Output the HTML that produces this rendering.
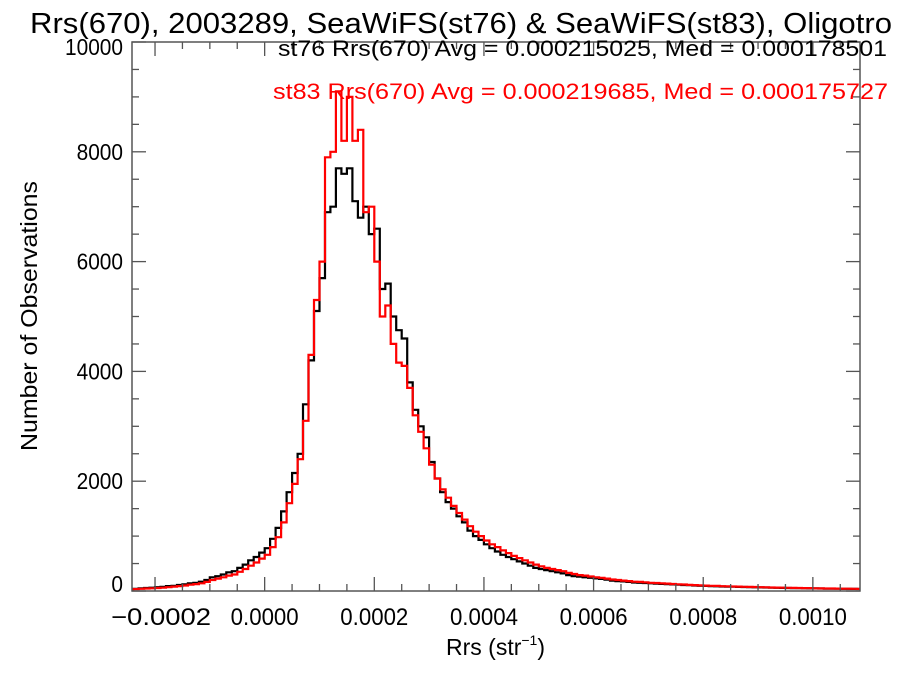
<!DOCTYPE html>
<html><head><meta charset="utf-8"><style>
body{margin:0;background:#fff;}
svg{display:block;font-family:"Liberation Sans",sans-serif;}
</style></head><body>
<svg id="chart" width="900" height="675">
<text x="30" y="33" font-size="29" fill="#000" textLength="862" lengthAdjust="spacingAndGlyphs">Rrs(670), 2003289, SeaWiFS(st76) &amp; SeaWiFS(st83), Oligotro</text>
<g id="plot"></g>
<text x="278" y="56" font-size="22" fill="#000" textLength="609" lengthAdjust="spacingAndGlyphs">st76 Rrs(670) Avg = 0.000215025, Med = 0.000178501</text>
<text x="273" y="99" font-size="22" fill="#ff0000" textLength="615" lengthAdjust="spacingAndGlyphs">st83 Rrs(670) Avg = 0.000219685, Med = 0.000175727</text>
<text x="446" y="655" font-size="23">Rrs (str<tspan font-size="14" dy="-10">−1</tspan><tspan dy="10">)</tspan></text>
<text transform="translate(37,316) rotate(-90)" font-size="23" text-anchor="middle" textLength="270" lengthAdjust="spacingAndGlyphs">Number of Observations</text>
</svg>
<script>
const binStart = -0.00024;
const binWidth = 0.00001;
const st76 = [40,50,55,60,70,75,90,95,110,120,140,150,170,200,250,270,300,340,360,420,480,560,620,700,780,950,1150,1450,1800,2150,2500,3400,4200,5100,5700,6900,7000,7700,7600,7700,7100,6800,7000,6500,6600,5500,5600,5000,4750,4600,3800,3300,3000,2800,2350,2050,1800,1620,1500,1360,1250,1100,1000,930,850,780,720,660,620,580,540,500,460,420,400,380,360,340,320,290,270,260,250,240,230,220,205,190,180,175,165,155,150,145,140,135,130,125,120,115,110,105,100,95,92,90,85,82,80,78,75,72,70,68,65,63,60,58,56,55,53,52,50,48,47,45,44,43,42,40,40,38,37];
const st83 = [35,40,45,50,55,60,70,80,90,100,115,125,140,165,200,225,250,280,300,350,400,460,520,590,660,800,980,1250,1600,1950,2400,3100,4300,5300,6000,7900,8000,9100,8200,9000,8200,8400,6900,7000,6000,5000,5200,4500,4160,4100,3700,3200,2900,2600,2300,2050,1850,1700,1550,1420,1300,1180,1080,1000,920,850,800,740,690,640,600,560,520,480,450,420,400,380,360,330,310,290,280,265,250,240,225,210,200,190,180,170,165,158,150,145,140,135,128,122,118,112,108,102,98,95,92,88,85,82,80,77,74,72,70,67,64,62,60,58,56,54,53,52,50,48,46,45,44,42,42,40,39];
const xTicks = [-0.0002,0,0.0002,0.0004,0.0006,0.0008,0.0010];
const xTickLabels = ["\u22120.0002","0.0000","0.0002","0.0004","0.0006","0.0008","0.0010"];
const yTicks = [0,2000,4000,6000,8000,10000];
const yTickLabels = ["0","2000","4000","6000","8000","10000"];

const L=132,R=860,T=42,B=591;
const xMin=-0.000242,xMax=0.001086,yMin=0,yMax=10000;
const xs=v=>L+(v-xMin)/(xMax-xMin)*(R-L);
const ys=v=>B-(v-yMin)/(yMax-yMin)*(B-T);
const NS="http://www.w3.org/2000/svg";
const plot=document.getElementById('plot');
function mk(tag,attrs){const e=document.createElementNS(NS,tag);for(const k in attrs)e.setAttribute(k,attrs[k]);plot.appendChild(e);return e;}

function stepPath(vals){
  let d='M'+xs(binStart).toFixed(1)+','+ys(0).toFixed(1);
  vals.forEach((v,i)=>{
    const x0=xs(binStart+i*binWidth),x1=xs(binStart+(i+1)*binWidth);
    d+=' L'+Math.max(L,x0).toFixed(1)+','+ys(v).toFixed(1)+' L'+Math.min(R,x1).toFixed(1)+','+ys(v).toFixed(1);
  });
  return d;
}
const p1=mk('path',{d:stepPath(st76),fill:'none',stroke:'#000','stroke-width':2.2});


const p2=mk('path',{d:stepPath(st83),fill:'none',stroke:'#ff0000','stroke-width':2.2});



const frame=mk('rect',{x:L,y:T,width:R-L,height:B-T,fill:'none',stroke:'#555','stroke-width':1.5});



for(let v=-0.0002;v<=0.00108;v+=0.00005){
  const x=xs(v);const major=Math.abs(Math.round(v/0.0002)*0.0002-v)<1e-9;const len=major?14:7;
  const t=mk('line',{x1:x,x2:x,y1:B,y2:B-len,stroke:'#555','stroke-width':1.3});
  
  
  const t2=mk('line',{x1:x,x2:x,y1:T,y2:T+len,stroke:'#555','stroke-width':1.3});
  
  
}
xTicks.forEach((v,i)=>{
  const w=xTickLabels[i].length>6?100:68;
  const t=mk('text',{x:xs(v)-(i===0?-6:0),y:625,'font-size':24,'text-anchor':'middle',textLength:w,lengthAdjust:'spacingAndGlyphs'});
  t.textContent=xTickLabels[i];
  
  
});
for(let v=0;v<=10000;v+=500){
  const y=ys(v);const len=(v%2000===0)?14:7;
  const t=mk('line',{x1:L,x2:L+len,y1:y,y2:y,stroke:'#555','stroke-width':1.3});
  
  
  const t2=mk('line',{x1:R,x2:R-len,y1:y,y2:y,stroke:'#555','stroke-width':1.3});
  
  
}
yTicks.forEach((v,i)=>{
  const y=i===0?592:(i===yTicks.length-1?ys(v)+13:ys(v)+8);
  const t=mk('text',{x:123,y:y,'font-size':23,'text-anchor':'end',textLength:yTickLabels[i].length*11.6,lengthAdjust:'spacingAndGlyphs'});
  t.textContent=yTickLabels[i];
  
  
});
</script>
</body></html>
